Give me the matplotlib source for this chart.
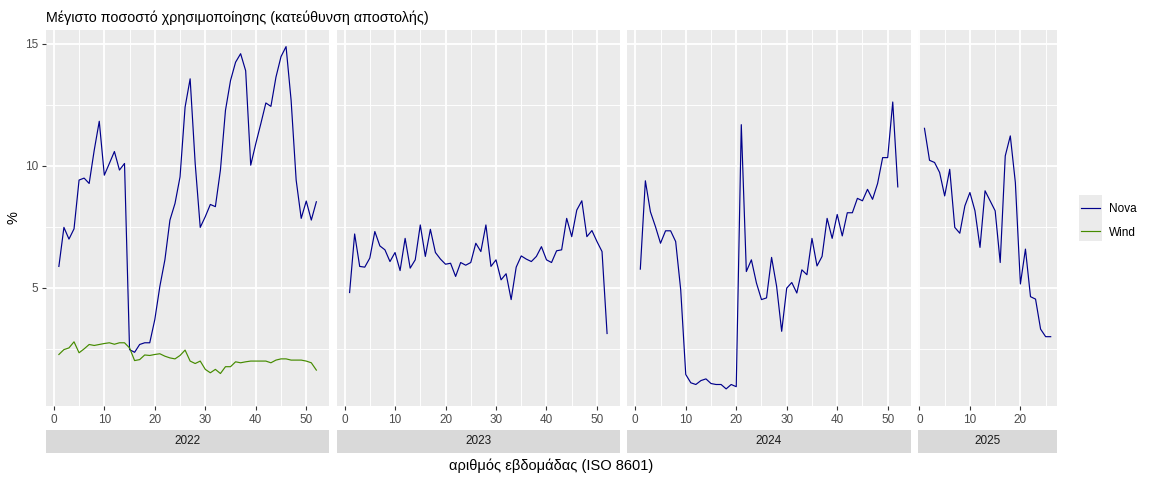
import matplotlib
matplotlib.use('Agg')
import matplotlib.pyplot as plt
from matplotlib.patches import Rectangle

plt.rcParams['font.family'] = ['Liberation Sans', 'DejaVu Sans']

years = ['2022', '2023', '2024', '2025']

nova_2022 = [5.88, 7.48, 7.0, 7.42, 9.42, 9.5, 9.28, 10.64, 11.83, 9.62,
             10.1, 10.59, 9.83, 10.1, 2.47, 2.36, 2.68, 2.75, 2.75, 3.7,
             5.06, 6.15, 7.78, 8.46, 9.55, 12.41, 13.57, 10.1, 7.48, 7.92,
             8.42, 8.33, 9.83, 12.28, 13.5, 14.25, 14.6, 13.9, 10.03, 10.91,
             11.73, 12.58, 12.44, 13.64, 14.48, 14.89, 12.69, 9.42, 7.85, 8.56,
             7.78, 8.53]
wind_2022 = [2.27, 2.47, 2.54, 2.79, 2.34, 2.5, 2.68, 2.64, 2.68, 2.72,
             2.75, 2.69, 2.75, 2.75, 2.54, 2.02, 2.06, 2.25, 2.23, 2.27,
             2.3, 2.2, 2.13, 2.09, 2.23, 2.45, 2.0, 1.9, 2.0, 1.66,
             1.52, 1.66, 1.49, 1.77, 1.77, 1.97, 1.93, 1.97, 2.0, 2.0,
             2.0, 2.0, 1.93, 2.04, 2.09, 2.09, 2.04, 2.04, 2.04, 2.0,
             1.93, 1.63]
nova_2023 = [4.81, 7.21, 5.88, 5.85, 6.22, 7.31, 6.72, 6.56, 6.08, 6.45,
             5.71, 7.03, 5.81, 6.15, 7.58, 6.29, 7.4, 6.45, 6.18, 5.97,
             6.01, 5.47, 6.04, 5.93, 6.04, 6.83, 6.49, 7.58, 5.88, 6.15,
             5.33, 5.58, 4.52, 5.85, 6.31, 6.18, 6.08, 6.29, 6.69, 6.15,
             6.04, 6.52, 6.56, 7.85, 7.1, 8.19, 8.57, 7.1, 7.35, 6.9,
             6.49, 3.13]
nova_2024 = [5.77, 9.39, 8.12, 7.51, 6.83, 7.34, 7.34, 6.9, 4.92, 1.45,
             1.11, 1.04, 1.2, 1.27, 1.08, 1.04, 1.04, 0.86, 1.04, 0.95,
             11.69, 5.67, 6.15, 5.2, 4.52, 4.59, 6.25, 5.06, 3.22, 4.99,
             5.22, 4.79, 5.74, 5.54, 7.03, 5.9, 6.29, 7.85, 7.03, 8.01,
             7.13, 8.08, 8.08, 8.67, 8.57, 9.04, 8.63, 9.28, 10.34, 10.34,
             12.62, 9.14]
nova_2025 = [11.54, 10.23, 10.14, 9.73, 8.77, 9.86, 7.48, 7.24, 8.36, 8.91,
             8.16, 6.66, 8.98, 8.57, 8.16, 6.04, 10.41, 11.23, 9.32, 5.16,
             6.59, 4.64, 4.54, 3.31, 3.0, 3.0]

nova = {'2022': nova_2022, '2023': nova_2023, '2024': nova_2024, '2025': nova_2025}
wind = {'2022': wind_2022}

series_labels = ['Nova', 'Wind']
x_ticks = [0, 10, 20, 30, 40, 50]
y_ticks = [5, 10, 15]
y_minor = [2.5, 7.5, 12.5]

title = 'Μέγιστο ποσοστό χρησιμοποίησης (κατεύθυνση αποστολής)'
xlabel = 'αριθμός εβδομάδας (ISO 8601)'
ylabel = '%'

NOVA_C = '#00008B'
WIND_C = '#458B00'

W, H = 1152, 480
fig = plt.figure(figsize=(W / 100, H / 100), dpi=100)
fig.patch.set_facecolor('white')

# y limits with ggplot-like 5% expansion
all_vals = [v for y in years for v in nova[y]] + [v for y in wind for v in wind[y]]
vmin, vmax = min(all_vals), max(all_vals)
pad = 0.05 * (vmax - vmin)
ylim = (vmin - pad, vmax + pad)

# panel layout in pixels
left_px, right_px = 46, 1057
top_px, bot_px = 29.5, 406
gap_px = 7.5
ranges = []
for y in years:
    n = len(nova[y])
    ranges.append(((1 - 0.05 * (n - 1)), (n + 0.05 * (n - 1))))
spans = [b - a for a, b in ranges]
ppw = (right_px - left_px - gap_px * (len(years) - 1)) / sum(spans)

def fr(x0, y0, x1, y1):
    return [x0 / W, 1 - y1 / H, (x1 - x0) / W, (y1 - y0) / H]

x = left_px
handles = None
for i, y in enumerate(years):
    w = spans[i] * ppw
    ax = fig.add_axes(fr(x, top_px, x + w, bot_px))
    ax.set_facecolor('#EBEBEB')
    weeks = list(range(1, len(nova[y]) + 1))
    ln1, = ax.plot(weeks, nova[y], color=NOVA_C, lw=0.85, zorder=3)
    if y in wind:
        ln2, = ax.plot(list(range(1, len(wind[y]) + 1)), wind[y], color=WIND_C, lw=0.85, zorder=3)
        handles = [ln1, ln2]
    ax.set_xlim(*ranges[i])
    ax.set_ylim(*ylim)
    xt = [t for t in x_ticks if ranges[i][0] <= t <= ranges[i][1]]
    ax.set_xticks(xt)
    ax.set_xticks([t + 5 for t in x_ticks if ranges[i][0] <= t + 5 <= ranges[i][1]], minor=True)
    ax.set_yticks(y_ticks)
    ax.set_yticks(y_minor, minor=True)
    ax.grid(which='major', color='white', lw=1.3, zorder=0)
    ax.grid(which='minor', color='white', lw=0.65, zorder=0)
    ax.set_axisbelow(True)
    for s in ax.spines.values():
        s.set_visible(False)
    ax.tick_params(which='major', length=3.2, width=0.8, color='#333333',
                   labelcolor='#4D4D4D', labelsize=8.5, pad=2.5)
    ax.tick_params(which='minor', length=0)
    if i > 0:
        ax.tick_params(axis='y', which='major', length=0, labelleft=False)
    # strip
    sax = fig.add_axes(fr(x, 430, x + w, 453))
    sax.set_facecolor('#D9D9D9')
    sax.set_xticks([]); sax.set_yticks([])
    for s in sax.spines.values():
        s.set_visible(False)
    sax.text(0.5, 0.5, y, ha='center', va='center', fontsize=8.5, color='#1A1A1A',
             transform=sax.transAxes)
    x += w + gap_px

fig.text(left_px / W, 1 - 17.5 / H, title, ha='left', va='center', fontsize=10.3, color='black')
fig.text((left_px + right_px) / 2 / W, 1 - 465.5 / H, xlabel, ha='center', va='center', fontsize=10.5, color='black')
fig.text(14 / W, 1 - 218 / H, ylabel, ha='center', va='center', rotation=90, fontsize=10.5, color='black')

# legend key backgrounds
fig.patches.append(Rectangle((1079 / W, 1 - 241 / H), 23 / W, 46 / H, transform=fig.transFigure,
                             facecolor='#EBEBEB', edgecolor='none', zorder=0))
leg = fig.legend(handles, series_labels, loc='center left',
                 bbox_to_anchor=(1073 / W, 1 - 221 / H), frameon=False,
                 fontsize=8.5, handlelength=1.6, handletextpad=0.75, labelspacing=0.95,
                 borderpad=0.2)

fig.savefig('out.png', dpi=100)
